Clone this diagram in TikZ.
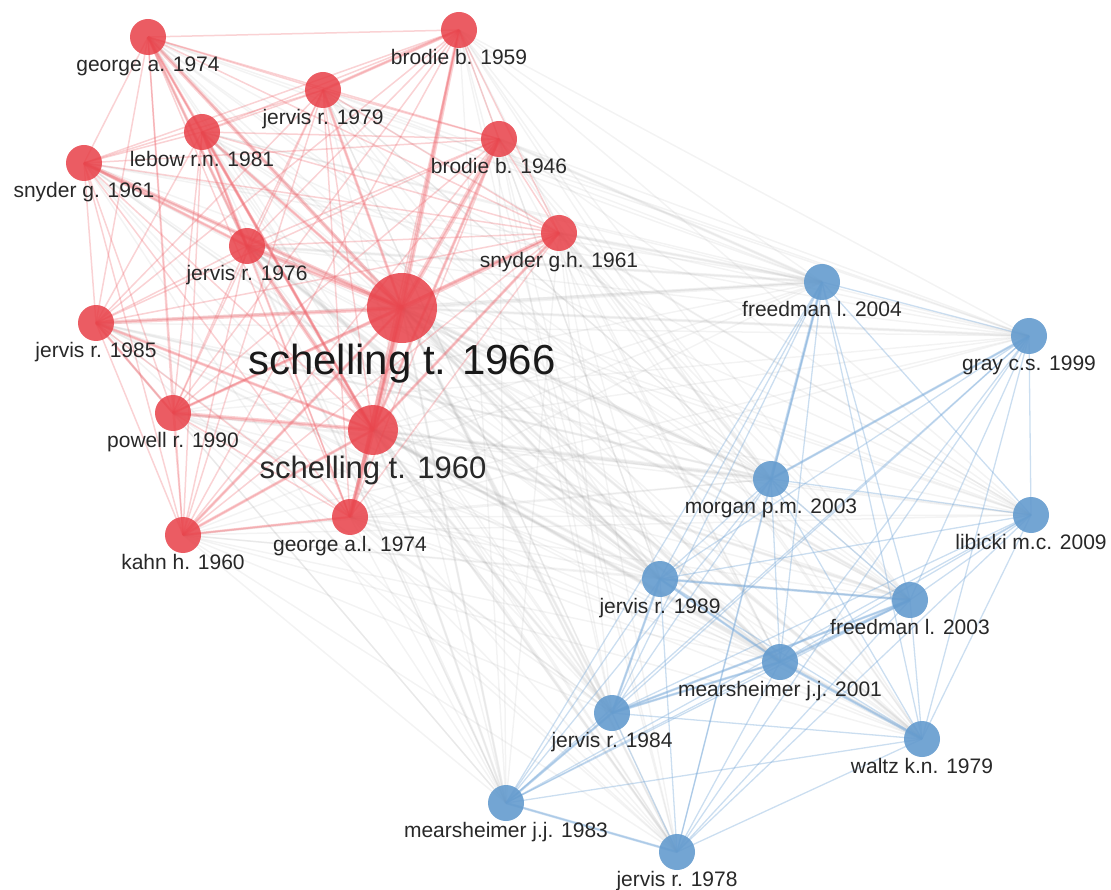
\documentclass[tikz,border=0pt]{standalone}
\usepackage{fontspec}
\setmainfont{Liberation Sans}
\usetikzlibrary{positioning}
\usetikzlibrary{backgrounds}
\definecolor{nodered}{RGB}{232,64,72}
\definecolor{nodeblue}{RGB}{100,155,206}
\definecolor{linkred}{RGB}{238,105,112}
\definecolor{linkblue}{RGB}{125,172,218}
\definecolor{linkgrey}{RGB}{160,160,160}
\definecolor{labtext}{RGB}{40,40,40}
\def\redset{ga74,bb59,jr79,lrn81,bb46,sg61,jr76,sgh61,ts66,jr85,pr90,ts60,kh60,gal74}
\def\blueset{fl04,gcs99,mpm03,lmc09,jr89,fl03,mjj01,jr84,wkn79,mjj83,jr78}

\begin{document}
\begin{tikzpicture}
	[x=1pt,y=-1pt,
	redcite/.style={circle,fill=nodered,fill opacity=0.85,inner sep=0pt,minimum size=36pt},
	bluecite/.style={circle,fill=nodeblue,fill opacity=0.9,inner sep=0pt,minimum size=36pt},
	lab/.style={inner sep=0pt,text=labtext,font=\fontsize{21}{25}\selectfont},
	midlab/.style={lab,font=\fontsize{31}{36}\selectfont},
	biglab/.style={lab,text=black!90,font=\fontsize{42}{48}\selectfont},
	rlink/.style={linkred,opacity=0.3,line width=1.5pt},
	blink/.style={linkblue,opacity=0.4,line width=1.3pt},
	glink/.style={linkgrey,opacity=0.12,line width=1.5pt}]
	\useasboundingbox (0,0) rectangle (1111,890);
	% red cluster
	\node [redcite] (ga74) at (148,37) {};
	\node [redcite] (bb59) at (459,30) {};
	\node [redcite] (jr79) at (323,90) {};
	\node [redcite] (lrn81) at (202,132) {};
	\node [redcite] (bb46) at (499,139) {};
	\node [redcite] (sg61) at (84,163) {};
	\node [redcite] (jr76) at (247,246) {};
	\node [redcite] (sgh61) at (559,233) {};
	\node [redcite,minimum size=70pt] (ts66) at (402,308) {};
	\node [redcite] (jr85) at (96,323) {};
	\node [redcite] (pr90) at (173,413) {};
	\node [redcite,minimum size=50pt] (ts60) at (373,430) {};
	\node [redcite] (kh60) at (183,535) {};
	\node [redcite] (gal74) at (350,517) {};
	% blue cluster
	\node [bluecite] (fl04) at (822,282) {};
	\node [bluecite] (gcs99) at (1029,336) {};
	\node [bluecite] (mpm03) at (771,479) {};
	\node [bluecite] (lmc09) at (1031,515) {};
	\node [bluecite] (jr89) at (660,579) {};
	\node [bluecite] (fl03) at (910,600) {};
	\node [bluecite] (mjj01) at (780,662) {};
	\node [bluecite] (jr84) at (612,713) {};
	\node [bluecite] (wkn79) at (922,739) {};
	\node [bluecite] (mjj83) at (506,803) {};
	\node [bluecite] (jr78) at (677,852) {};
	% labels
	\node [lab,below=1pt of ga74] (ga74t) {george a. 1974};
	\node [lab,below=1pt of bb59] (bb59t) {brodie b. 1959};
	\node [lab,below=1pt of jr79] (jr79t) {jervis r. 1979};
	\node [lab,below=1pt of lrn81] (lrn81t) {lebow r.n. 1981};
	\node [lab,below=1pt of bb46] (bb46t) {brodie b. 1946};
	\node [lab,below=1pt of sg61] (sg61t) {snyder g. 1961};
	\node [lab,below=1pt of jr76] (jr76t) {jervis r. 1976};
	\node [lab,below=1pt of sgh61] (sgh61t) {snyder g.h. 1961};
	\node [biglab,below=1pt of ts66] (ts66t) {schelling t. 1966};
	\node [lab,below=1pt of jr85] (jr85t) {jervis r. 1985};
	\node [lab,below=1pt of pr90] (pr90t) {powell r. 1990};
	\node [midlab,below=1pt of ts60] (ts60t) {schelling t. 1960};
	\node [lab,below=1pt of kh60] (kh60t) {kahn h. 1960};
	\node [lab,below=1pt of gal74] (gal74t) {george a.l. 1974};
	\node [lab,below=1pt of fl04] (fl04t) {freedman l. 2004};
	\node [lab,below=1pt of gcs99] (gcs99t) {gray c.s. 1999};
	\node [lab,below=1pt of mpm03] (mpm03t) {morgan p.m. 2003};
	\node [lab,below=1pt of lmc09] (lmc09t) {libicki m.c. 2009};
	\node [lab,below=1pt of jr89] (jr89t) {jervis r. 1989};
	\node [lab,below=1pt of fl03] (fl03t) {freedman l. 2003};
	\node [lab,below=1pt of mjj01] (mjj01t) {mearsheimer j.j. 2001};
	\node [lab,below=1pt of jr84] (jr84t) {jervis r. 1984};
	\node [lab,below=1pt of wkn79] (wkn79t) {waltz k.n. 1979};
	\node [lab,below=1pt of mjj83] (mjj83t) {mearsheimer j.j. 1983};
	\node [lab,below=1pt of jr78] (jr78t) {jervis r. 1978};
	% links
	\begin{scope}[on background layer]
	\foreach \a in \redset
		\foreach \b in \blueset
			\draw [glink] (\a.center) -- (\b.center);
	\foreach \a/\b/\w in {ts66/fl04/4,ts66/mpm03/4,ts66/jr89/3.5,ts60/jr89/3.5,ts60/mpm03/3.5,
		ts66/mjj01/3,ts60/mjj01/3,jr76/mjj01/3,ts66/gcs99/3,jr76/fl04/3,ts66/fl03/3,ts60/fl03/3,
		ts66/wkn79/3,ts60/wkn79/3,ts66/jr84/3,ts60/jr84/3,jr76/jr89/3,jr85/mpm03/2.5,bb46/fl04/3,
		sgh61/fl04/3,sgh61/mpm03/3,ts66/mjj83/2.5,ts60/mjj83/2.5,ts66/jr78/2.5,ts60/jr78/2.5}
		\draw [glink,line width=\w pt] (\a.center) -- (\b.center);
	\foreach \a [count=\i] in \redset
		\foreach \b [count=\j] in \redset
			{\ifnum\j>\i \draw [rlink] (\a.center) -- (\b.center); \fi}
	\foreach \a/\b/\w in {ts66/ts60/8,ts66/jr76/5,ts66/bb59/4,ts66/bb46/5,ts66/sgh61/5,ts66/jr85/4,
		ts66/ga74/4,ts66/sg61/4,ts66/lrn81/3,ts66/jr79/3,ts66/pr90/3,ts66/kh60/3,ts66/gal74/4,
		ts60/jr76/4,ts60/pr90/4,ts60/kh60/3,ts60/gal74/5,ts60/sgh61/3,ts60/bb46/3,ts60/jr85/3,
		ts60/ga74/3,ts60/lrn81/3,jr76/lrn81/3,jr76/ga74/3,jr76/sg61/3,jr79/bb59/3,pr90/jr85/2.5,
		kh60/gal74/2.5}
		\draw [rlink,line width=\w pt] (\a.center) -- (\b.center);
	\foreach \a [count=\i] in \blueset
		\foreach \b [count=\j] in \blueset
			{\ifnum\j>\i \draw [blink] (\a.center) -- (\b.center); \fi}
	\foreach \a/\b/\w in {fl04/mpm03/3,mpm03/gcs99/2.5,mjj01/fl03/3,mjj01/wkn79/3,mjj01/jr89/2.5,
		jr84/mjj83/2.5,jr84/mjj01/2.5,jr89/fl03/2.5,mjj83/jr78/2.5,jr84/jr89/2.5,jr84/fl03/2.5}
		\draw [blink,line width=\w pt] (\a.center) -- (\b.center);
	\end{scope}
\end{tikzpicture}
\end{document}
